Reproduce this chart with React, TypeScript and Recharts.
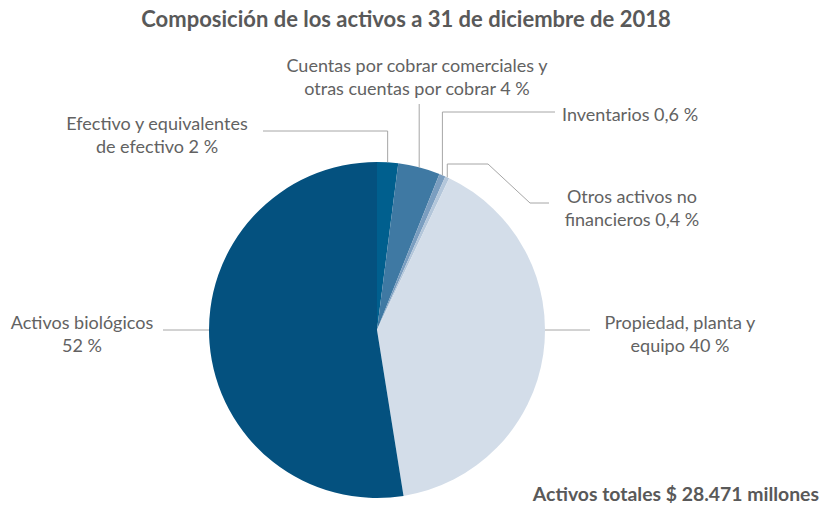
import { PieChart, Pie, Cell } from 'recharts'

const categories = [
  'Efectivo y equivalentes de efectivo',
  'Cuentas por cobrar comerciales y otras cuentas por cobrar',
  'Inventarios',
  'Otros activos no financieros',
  'Propiedad, planta y equipo',
  'Activos biológicos',
]
const shares = [2, 4, 0.6, 0.4, 40, 52]
const shareLabels = ['2 %', '4 %', '0,6 %', '0,4 %', '40 %', '52 %']
const labelLines = [
  ['Efectivo y equivalentes', 'de efectivo 2 %'],
  ['Cuentas por cobrar comerciales y', 'otras cuentas por cobrar 4 %'],
  ['Inventarios 0,6 %'],
  ['Otros activos no', 'financieros 0,4 %'],
  ['Propiedad, planta y', 'equipo 40 %'],
  ['Activos biológicos', '52 %'],
]
const colors = ['#005f8e', '#3f79a3', '#7b9ec0', '#b3c6da', '#d3dde9', '#04517f']

const data = categories.map((name, i) => ({ name, value: shares[i], label: shareLabels[i] }))

const FONT = 'Lato, "Open Sans", sans-serif'
const GREY = '#595959'
const LABEL_GREY = '#626262'
const LINE = '#a6a6a6'
const RAD = Math.PI / 180

type Pt = [number, number]

// where each label sits and how its leader line bends
const layout: { x: number; y: number; anchor: 'middle' | 'start'; from: 'mid' | 'right' | 'left'; bend: (s: Pt) => Pt[] }[] = [
  { x: 157, y: 123, anchor: 'middle', from: 'mid', bend: (s) => [[s[0], 131], [263, 131]] },
  { x: 417, y: 65, anchor: 'middle', from: 'mid', bend: (s) => [[s[0], 104]] },
  { x: 562, y: 114, anchor: 'start', from: 'mid', bend: (s) => [[s[0], 112], [555, 112]] },
  { x: 632, y: 196, anchor: 'middle', from: 'mid', bend: (s) => [[s[0], 164], [488, 164], [530, 203], [549, 203]] },
  { x: 680, y: 322, anchor: 'middle', from: 'right', bend: (s) => [[590, s[1]]] },
  { x: 82, y: 322, anchor: 'middle', from: 'left', bend: (s) => [[163, s[1]]] },
]

const renderLabel = (props: any) => {
  const { cx, cy, outerRadius, midAngle, index } = props
  const cfg = layout[index]
  let start: Pt
  if (cfg.from === 'right') start = [cx + outerRadius, cy]
  else if (cfg.from === 'left') start = [cx - outerRadius, cy]
  else start = [cx + outerRadius * Math.cos(-midAngle * RAD), cy + outerRadius * Math.sin(-midAngle * RAD)]
  const pts = [start, ...cfg.bend(start)]
  const d = pts.map((p, i) => `${i ? 'L' : 'M'}${p[0]},${p[1]}`).join(' ')
  return (
    <g key={`lbl-${index}`}>
      <path d={d} stroke={LINE} strokeWidth={1} fill="none" />
      <text x={cfg.x} y={cfg.y} textAnchor={cfg.anchor} fill={LABEL_GREY} fontSize={18} fontFamily={FONT} dominantBaseline="central">
        {labelLines[index].map((t, j) => (
          <tspan key={j} x={cfg.x} dy={j ? 23 : 0}>{t}</tspan>
        ))}
      </text>
    </g>
  )
}

export default function App() {
  return (
    <div style={{ position: 'absolute', left: 0, top: 0, width: 824, height: 505, background: '#fff' }}>
      <PieChart width={824} height={505} margin={{ top: 0, right: 0, bottom: 0, left: 0 }}>
        <text x={406} y={18} textAnchor="middle" dominantBaseline="central" fill={GREY} fontSize={22} fontWeight={700} fontFamily={FONT}>
          Composición de los activos a 31 de diciembre de 2018
        </text>
        <Pie
          data={data}
          dataKey="value"
          nameKey="name"
          cx={377}
          cy={330}
          outerRadius={168}
          startAngle={90}
          endAngle={-270}
          stroke="none"
          label={renderLabel}
          labelLine={false}
          isAnimationActive={false}
        >
          {data.map((d, i) => (
            <Cell key={d.name} fill={colors[i]} />
          ))}
        </Pie>
        <text x={819} y={493} textAnchor="end" dominantBaseline="central" fill={GREY} fontSize={19.4} fontWeight={700} fontFamily={FONT}>
          Activos totales $ 28.471 millones
        </text>
      </PieChart>
    </div>
  )
}
